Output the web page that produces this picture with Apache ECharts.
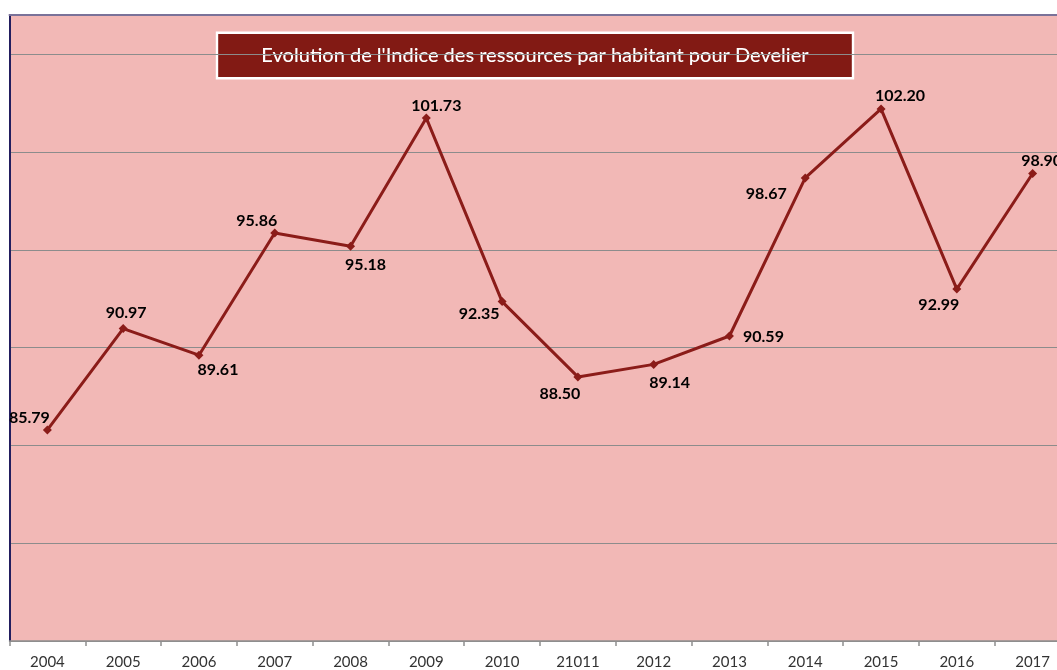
<!DOCTYPE html>
<html>
<head>
<meta charset="utf-8">
<script src="https://cdn.jsdelivr.net/npm/echarts@6/dist/echarts.min.js"></script>
<style>html,body{margin:0;padding:0;background:#fff;}#c{width:1057px;height:670px;}</style>
</head>
<body>
<div id="c"></div>
<script>
const titleText = "Evolution de l'Indice des ressources par habitant pour Develier";
const categories = ['2004','2005','2006','2007','2008','2009','2010','21011','2012','2013','2014','2015','2016','2017'];
const values = [85.79, 90.97, 89.61, 95.86, 95.18, 101.73, 92.35, 88.50, 89.14, 90.59, 98.67, 102.20, 92.99, 98.90];
const labelOffsets = [[-18,-12],[3,-16],[19,15],[-18,-12],[15,19],[10,-12],[-23,12],[-18,17],[16,18],[34,1],[-39,16],[19,-13],[-18,16],[9,-13]];

const chart = echarts.init(document.getElementById('c'), null, {renderer:'canvas'});
const lineColor = '#8b1c19';
chart.setOption({
  backgroundColor: '#ffffff',
  animation: false,
  grid: {
    left: 9.5, top: 15, width: 1061, bottom: 29,
    outerBoundsMode: 'none',
    containLabel: false,
    show: true, backgroundColor: '#f2b8b6', borderWidth: 0
  },
  xAxis: [{
    type: 'category',
    data: categories,
    boundaryGap: true,
    axisLine: {show: true, lineStyle: {color: '#8f8f8f', width: 1.5}},
    axisTick: {show: true, length: 5, inside: false, lineStyle: {color: '#8f8f8f', width: 1.5}},
    axisLabel: {color: '#333333', fontFamily: 'Lato', fontSize: 15, margin: 14},
    splitLine: {show: false}
  }, {
    type: 'category',
    data: categories,
    position: 'top',
    axisLine: {show: true, lineStyle: {color: '#7a7299', width: 2}},
    axisTick: {show: false},
    axisLabel: {show: false},
    splitLine: {show: false}
  }],
  yAxis: {
    type: 'value',
    min: 75, max: 107, interval: 5,
    axisLine: {show: true, lineStyle: {color: '#221d5e', width: 2}},
    axisTick: {show: false},
    axisLabel: {show: false},
    splitLine: {show: true, lineStyle: {color: '#8c8c8c', width: 1.2}}
  },
  series: [{
    type: 'line',
    data: values.map((v, i) => ({
      value: v,
      label: {offset: labelOffsets[i]}
    })),
    symbol: 'diamond',
    symbolSize: 9,
    lineStyle: {color: lineColor, width: 3},
    itemStyle: {color: lineColor},
    label: {
      show: true,
      position: 'inside',
      align: 'center',
      verticalAlign: 'middle',
      formatter: p => p.value.toFixed(2),
      color: '#000000',
      fontFamily: 'Lato',
      fontWeight: 'bold',
      fontSize: 16
    }
  }],
  graphic: [{
    type: 'group',
    children: [{
      type: 'rect',
      shape: {x: 217, y: 32.7, width: 636, height: 45.6},
      style: {fill: '#821a14', stroke: '#ffffff', lineWidth: 2.4}
    }, {
      type: 'text',
      x: 535, y: 56,
      style: {
        text: titleText,
        fill: '#ffffff',
        font: '500 20px Lato',
        align: 'center',
        verticalAlign: 'middle'
      }
    }]
  }]
});
</script>
</body>
</html>
